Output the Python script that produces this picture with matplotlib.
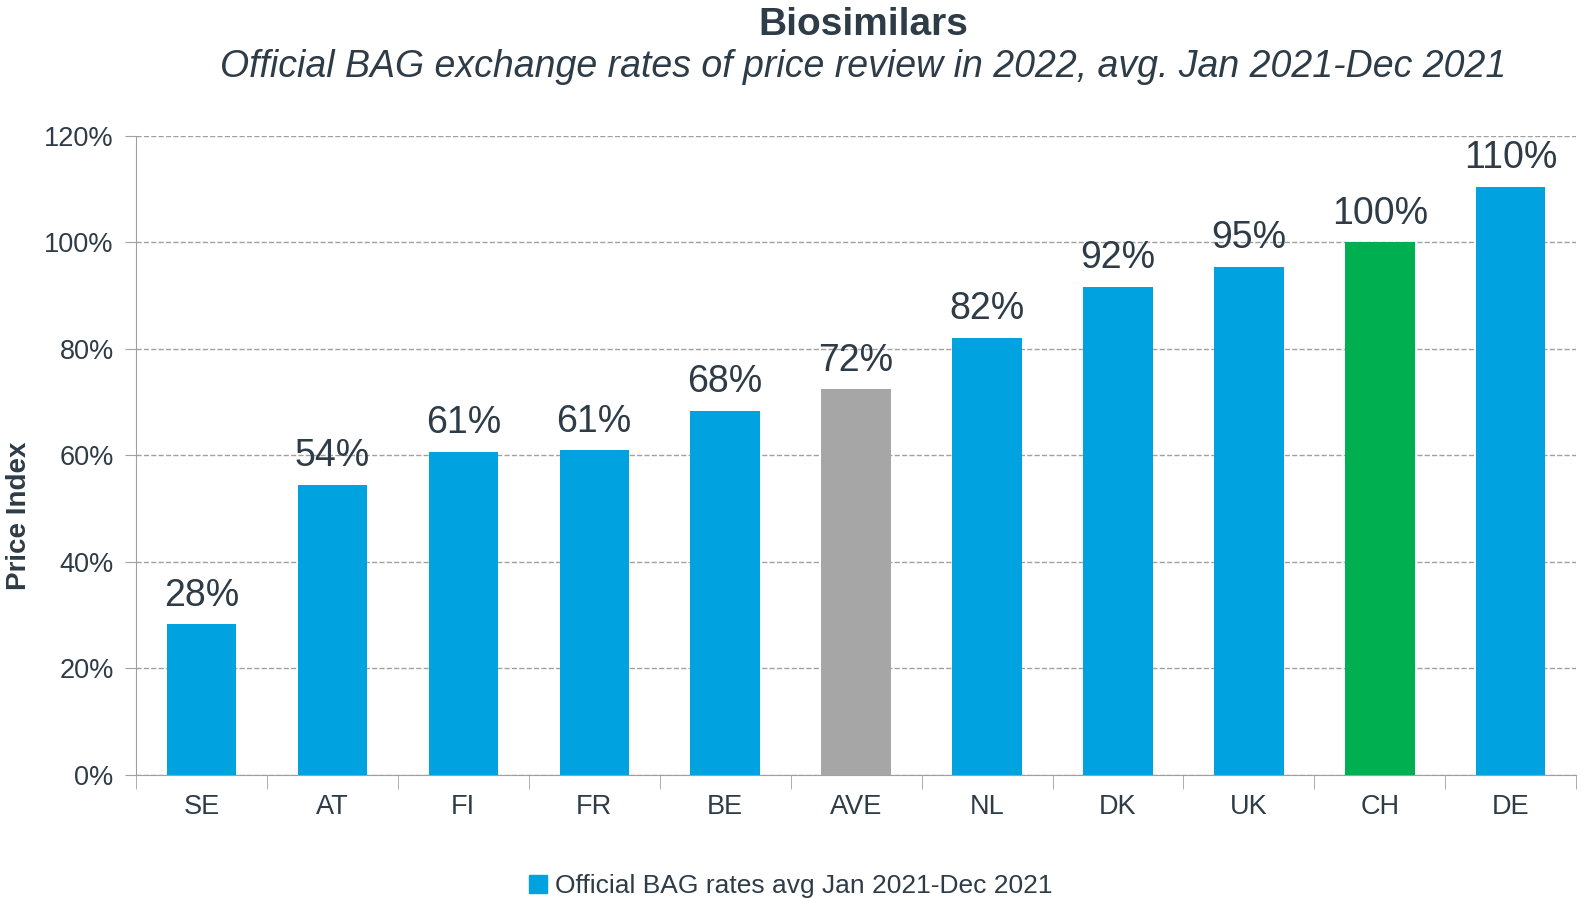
import matplotlib
matplotlib.use("Agg")
import matplotlib.pyplot as plt
from matplotlib.patches import Patch

# data
paises = ["SE", "AT", "FI", "FR", "BE", "AVE", "NL", "DK", "UK", "CH", "DE"]
indice = [28.3, 54.4, 60.6, 60.9, 68.4, 72.4, 82.1, 91.6, 95.4, 100.0, 110.4]
y_ticks = [0, 20, 40, 60, 80, 100, 120]

AZUL = "#00A3E0"
VERDE = "#00AF50"
CINZA = "#A6A6A6"
TEXTO = "#2E3C48"
cores = [CINZA if p == "AVE" else VERDE if p == "CH" else AZUL for p in paises]

plt.rcParams["font.family"] = ["Liberation Sans", "DejaVu Sans"]

fig = plt.figure(figsize=(15.81, 8.98), dpi=100)
ax = fig.add_axes([0.086, 0.137, 0.911, 0.712])

x = range(len(paises))
bars = ax.bar(x, indice, width=0.53, color=cores, zorder=3)
for b, v in zip(bars, indice):
    ax.text(b.get_x() + b.get_width() / 2, v + 2.0, f"{v:.0f}%",
            ha="center", va="bottom", fontsize=27, color=TEXTO)

ax.set_xlim(-0.5, len(paises) - 0.5)
ax.set_ylim(0, 120)
ax.set_yticks(y_ticks)
ax.set_yticklabels([f"{t}%" for t in y_ticks], fontsize=19.5, color=TEXTO)
ax.set_xticks(list(x))
ax.set_xticklabels(paises, fontsize=19.5, color=TEXTO)
ax.set_xticks([i - 0.5 for i in range(len(paises) + 1)], minor=True)
ax.tick_params(axis="x", which="major", length=0, pad=14)
ax.tick_params(axis="x", which="minor", length=10, color="#A0A0A0", direction="out")
ax.tick_params(axis="y", length=8, color="#A0A0A0", pad=8)

ax.grid(axis="y", linestyle="--", color="#A0A0A0", linewidth=1, zorder=0)
for lado in ["top", "right"]:
    ax.spines[lado].set_visible(False)
ax.spines["left"].set_color("#A0A0A0")
ax.spines["bottom"].set_color("#A0A0A0")

ax.set_ylabel("Price Index", fontsize=20, fontweight="bold", color=TEXTO)
ax.yaxis.set_label_coords(-0.072, 0.405)

fig.text(0.546, 0.972, "Biosimilars", ha="center", va="center",
         fontsize=28, fontweight="bold", color=TEXTO)
fig.text(0.546, 0.925, "Official BAG exchange rates of price review in 2022, avg. Jan 2021-Dec 2021",
         ha="center", va="center", fontsize=27, style="italic", color=TEXTO)

fig.legend(handles=[Patch(color=AZUL, label="Official BAG rates avg Jan 2021-Dec 2021")],
           loc="center", bbox_to_anchor=(0.5, 0.013), frameon=False,
           prop={"size": 19}, labelcolor=TEXTO,
           handlelength=0.7, handleheight=0.7, handletextpad=0.3)

plt.savefig("out.png", dpi=100)
